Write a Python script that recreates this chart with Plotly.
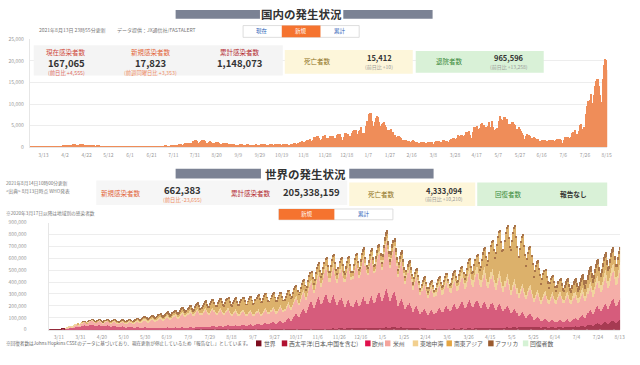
import plotly.graph_objects as go
import pandas as pd

W, H = 640, 365
FONT = "Noto Sans CJK JP, Noto Sans, sans-serif"

# ---------------- 国内: daily new cases (2020-03-01 .. 2021-08-15) ----------------
jp_start, jp_end = "2020-03-01", "2021-08-15"
jp_2020_03 = [15,14,9,33,33,59,47,33,26,54,52,56,62,41,64,15,44,39,44,53,41,43,39,65,71,96,112,194,173,87,220]
jp_2020_04 = [266,235,351,368,383,252,351,515,575,708,743,507,390,457,549,586,582,568,372,370,376,439,420,436,350,203,233,279,223,165]
jp_2020_05 = [229,258,309,174,123,91,98,123,108,71,68,78,60,55,99,49,31,18,33,39,28,29,28,17,21,41,35,51,66,47,36]
jp_2020_06 = [35,51,45,46,41,49,42,27,38,49,42,41,45,50,72,43,40,41,65,39,59,35,31,58,80,104,96,118,86,103]
jp_2020_07 = [125,194,250,274,206,158,206,207,355,430,385,407,253,332,452,622,595,663,509,420,631,795,981,769,839,837,598,981,1264,1301,1580]
jp_2020_08 = [1536,1331,957,1243,1354,1485,1605,1567,1441,820,700,979,1177,1360,1227,1007,650,900,1070,1180,1030,1010,740,480,720,900,860,820,860,580,430]
jp_2020_09 = [590,600,580,590,560,430,270,510,500,650,640,580,440,270,400,510,580,560,530,410,300,280,270,470,560,550,410,310,490,600]
jp_2020_10 = [630,600,590,550,360,510,520,620,650,590,430,390,670,640,570,610,620,420,310,610,640,690,740,780,490,470,560,700,770,870,840]
jp_2020_11 = [610,480,860,620,1040,1140,1330,1130,780,1280,1550,1660,1700,1730,1440,950,1700,2200,2390,2420,2590,2170,1520,1230,1940,2500,2500,2680,2060,1430]
jp_2020_12 = [2020,2420,2510,2440,2510,2060,1500,2050,2810,2970,2790,3040,2400,1680,2400,3200,3210,2990,2990,2500,1750,2640,3270,3740,3820,3880,2950,2390,3600,3850,4520]
jp_2021_01 = [3200,3050,3160,3320,4900,6000,7570,7880,7790,6090,4870,4540,5870,6600,7130,6990,5750,4930,5320,5630,5680,5040,4720,3990,1980,3850,3960,4130,3530,3340,2670]
jp_2021_02 = [1790,2320,2630,2570,2270,2070,1550,1000,1560,1710,1560,1360,1360,1250,1000,1300,1530,1390,1220,1220,1060,700,900,1070,1050,1000,1080,990]
jp_2021_03 = [700,870,1130,1150,1150,1140,1070,600,1080,1310,1300,1320,1280,1060,830,1100,1490,1560,1480,1470,1120,810,1500,1920,1920,2000,2080,1780,1210,2060,2840]
jp_2021_04 = [2600,2760,2780,2470,1570,2660,3450,3450,3460,3700,2780,1990,3460,4570,4570,4530,4800,4090,2920,4340,5300,5500,5100,5100,4600,3300,4900,5800,4700,4680]
jp_2021_05 = [5900,4500,4000,4000,4100,4400,6000,7200,6400,4900,6200,7000,6900,6300,6400,5200,3700,5200,5700,5700,5200,5000,4100,2700,4100,4500,4100,3700,3300,2700,1800]
jp_2021_06 = [2600,3000,2800,2700,2600,2000,1300,2000,2300,2100,1900,1900,1400,1000,1400,1700,1700,1600,1600,1300,900,1400,1700,1700,1600,1600,1300,980,1500,1800]
jp_2021_07 = [1800,1800,1900,1500,1000,1700,2200,2200,2200,2400,2000,1500,2400,3200,3400,3400,3800,3100,2300,3700,5000,5400,4200,4000,4700,4700,7600,9500,10700,10800,12300]
jp_2021_08 = [10200,8400,12000,14200,15300,15800,15700,14100,12100,10400,15800,18900,20300,20100,17823]

jp_new = (jp_2020_03 + jp_2020_04 + jp_2020_05 + jp_2020_06 + jp_2020_07 + jp_2020_08 +
          jp_2020_09 + jp_2020_10 + jp_2020_11 + jp_2020_12 + jp_2021_01 + jp_2021_02 +
          jp_2021_03 + jp_2021_04 + jp_2021_05 + jp_2021_06 + jp_2021_07 + jp_2021_08)

# ---------------- 世界: daily new cases by WHO region, thousands ----------------
world_start, world_end = "2020-03-02", "2021-08-13"
world_total_k = [2,2,2,3,3,4,4,4,4,5,7,7,11,11,13]   # 3/2..3/16 (before regional data)

wpro_k = [
1,1,1,1,1,1,1, 1,1,1,1,1,1,1,
1,2,2,2,2,2,1, 2,2,2,2,2,2,2,
2,2,2,2,2,2,1, 1,2,2,2,2,1,1,
1,1,1,1,1,1,1, 1,1,1,1,1,1,1,
1,1,1,1,1,1,1, 1,1,1,1,1,1,1,
1,1,1,1,1,1,1, 1,1,1,1,1,1,1,
1,1,1,1,1,1,1, 1,1,1,1,1,1,1,
1,1,1,1,1,1,1, 1,2,2,2,2,2,2,
3,3,3,3,3,3,3, 3,4,4,4,4,4,4,
4,5,5,5,6,5,5, 5,6,6,7,7,6,5,
6,7,7,8,8,7,6, 6,7,7,8,8,7,6,
6,7,7,8,8,7,6, 5,6,6,7,7,6,5,
5,6,6,7,7,6,5, 4,5,5,6,6,5,4,
4,5,5,6,6,5,4, 4,5,5,6,6,5,4,
4,5,5,6,6,5,4, 4,5,5,6,6,5,4,
4,5,5,6,6,5,4, 5,6,6,7,7,6,5,
5,6,6,7,7,6,5, 6,7,7,8,8,7,6,
8,9,9,10,10,9,8, 9,11,12,12,12,11,10,
10,12,13,13,14,12,11, 11,13,14,14,15,13,12,
12,14,15,16,16,14,12, 14,15,17,18,18,16,14,
14,15,17,18,18,16,14, 15,16,18,19,19,17,15,
17,19,21,22,23,20,18, 19,21,23,24,25,22,20,
17,19,21,22,23,20,18, 15,17,19,20,20,18,16,
13,14,16,17,17,15,13, 10,12,13,13,14,12,11,
9,10,10,11,11,10,9, 9,10,10,11,11,10,9,
9,10,10,11,11,10,9, 9,11,12,12,12,11,10,
9,11,12,12,12,11,10, 10,12,13,13,14,12,11,
11,13,14,14,15,13,12, 12,14,15,16,16,14,12,
14,15,17,18,18,16,14, 15,17,19,20,20,18,16,
17,19,21,22,23,20,18, 19,21,23,24,25,22,20,
21,23,25,27,27,24,21, 22,24,26,28,28,25,22,
21,23,25,27,27,24,21, 19,21,23,24,25,22,20,
19,21,23,24,25,22,20, 20,22,24,26,26,23,20,
21,23,25,27,27,24,21, 22,25,27,29,29,26,23,
28,31,34,36,36,32,28, 34,38,42,44,45,40,36,
43,48,53,56,57,50,45, 52,58,63,67,68,60,53,
60,67,74,78,79,70,62, 67,75,82,87]

euro_k = [
11,13,15,17,19,18,17, 20,23,26,28,30,27,24,
28,31,35,37,38,34,30, 32,36,39,41,42,37,33,
30,34,37,39,40,35,31, 28,32,35,37,37,33,29,
26,29,32,33,34,30,26, 22,24,26,28,28,25,22,
19,21,23,24,25,22,20, 17,19,21,22,23,20,18,
15,17,19,20,20,18,16, 15,16,18,19,19,17,15,
15,16,18,19,19,17,15, 15,17,19,20,20,18,16,
15,17,19,20,20,18,16, 15,17,19,20,20,18,16,
15,17,19,20,21,18,16, 17,19,21,22,23,20,18,
18,20,22,23,24,21,19, 20,22,24,26,26,23,20,
21,24,26,28,28,25,22, 23,26,28,30,31,27,24,
25,28,30,32,33,29,26, 27,31,34,36,36,32,28,
31,35,38,40,41,36,32, 36,40,44,47,47,42,37,
41,46,50,53,54,48,43, 47,53,58,61,62,55,49,
56,62,68,72,73,65,58, 66,75,84,91,94,83,75,
90,103,116,125,130,115,104, 125,143,160,170,175,155,140,
165,190,212,225,232,205,182, 200,228,252,268,275,243,215,
220,245,268,283,288,255,227, 215,240,263,278,283,250,222,
198,221,242,255,260,230,205, 185,206,226,239,243,215,191,
181,202,221,233,237,210,187, 198,221,242,255,260,230,205,
206,230,252,266,271,240,214, 224,250,273,289,294,260,231,
249,278,305,322,328,290,258, 224,250,273,289,294,260,231,
185,206,226,239,243,215,191, 159,178,194,205,209,185,165,
142,158,173,183,186,165,147, 125,139,152,161,164,145,129,
120,134,147,155,158,140,125, 133,149,163,172,175,155,138,
146,163,179,189,192,170,151, 159,178,194,205,209,185,165,
172,192,210,222,226,200,178, 185,206,226,239,243,215,191,
181,202,221,233,237,210,187, 172,192,210,222,226,200,178,
163,182,200,211,215,190,169, 155,173,189,200,203,180,160,
142,158,173,183,186,165,147, 120,134,147,155,158,140,125,
95,106,116,122,124,110,98, 82,91,100,105,107,95,85,
65,72,79,83,85,75,67, 52,58,63,67,68,60,53,
47,53,58,61,62,55,49, 43,48,53,56,57,50,45,
47,53,58,61,62,55,49, 56,62,68,72,73,65,58,
69,77,84,89,90,80,71, 95,106,116,122,124,110,98,
112,125,137,144,147,130,116, 120,134,147,155,158,140,125,
138,154,168,178,181,160,142, 142,158,173,183]

amro_k = [
3,4,5,6,7,6,6, 9,11,13,14,15,13,12,
21,24,26,28,28,25,22, 28,32,35,37,37,33,29,
28,32,35,37,37,33,29, 28,32,35,37,37,33,29,
30,34,37,39,40,35,31, 30,34,37,39,40,35,31,
33,36,40,42,43,38,34, 39,43,47,50,51,45,40,
47,53,58,61,62,55,49, 52,58,63,67,68,60,53,
56,62,68,72,73,65,58, 65,72,79,83,85,75,67,
73,82,89,94,96,85,76, 86,96,105,111,113,100,89,
95,106,116,122,124,110,98, 103,115,126,133,136,120,107,
108,120,131,139,141,125,111, 108,120,131,139,141,125,111,
103,115,126,133,136,120,107, 99,110,121,128,130,115,102,
90,101,110,117,119,105,93, 86,96,105,111,113,100,89,
82,91,100,105,107,95,85, 77,86,95,100,102,90,80,
82,91,100,105,107,95,85, 82,91,100,105,107,95,85,
82,91,100,105,107,95,85, 86,96,105,111,113,100,89,
95,106,116,122,124,110,98, 103,115,126,133,136,120,107,
116,130,142,150,153,135,120, 138,154,168,178,181,160,142,
163,182,200,211,215,190,169, 181,202,221,233,237,210,187,
185,206,226,239,243,215,191, 206,230,252,266,271,240,214,
232,259,284,300,305,270,240, 249,278,305,322,328,290,258,
241,269,294,311,316,280,249, 249,278,305,322,328,290,258,
301,336,368,389,396,350,312, 275,307,336,355,362,320,285,
241,269,294,311,316,280,249, 215,240,263,278,283,250,223,
185,206,226,239,243,215,191, 155,173,189,200,203,180,160,
138,154,168,178,181,160,142, 146,163,179,189,192,170,151,
151,168,184,194,198,175,156, 146,163,179,189,192,170,151,
151,168,184,194,198,175,156, 168,187,205,216,220,195,174,
172,192,210,222,226,200,178, 176,197,215,228,232,205,182,
172,192,210,222,226,200,178, 168,187,205,216,220,195,174,
163,182,200,211,215,190,169, 155,173,189,200,203,180,160,
155,173,189,200,203,180,160, 155,173,189,200,203,180,160,
151,168,184,194,198,175,156, 151,168,184,194,198,175,156,
155,173,189,200,203,180,160, 159,178,194,205,209,185,165,
155,173,189,200,203,180,160, 142,158,173,183,186,165,147,
138,154,168,178,181,160,142, 142,158,173,183,186,165,147,
151,168,184,194,198,175,156, 168,187,205,216,220,195,174,
172,192,210,222,226,200,178, 181,202,221,233]

emro_k = [
1,1,1,2,2,2,2, 2,3,3,3,3,3,3,
4,4,4,4,4,4,4, 5,5,5,5,5,5,5,
6,6,6,6,6,6,6, 7,7,7,7,7,7,7,
8,8,8,8,8,8,8, 9,10,10,10,10,10,10,
11,11,11,11,12,11,11, 12,13,13,13,14,13,13,
14,15,15,16,16,15,15, 17,18,18,19,19,18,17,
19,20,20,21,21,20,19, 19,20,20,21,21,20,19,
19,20,20,21,21,20,19, 18,19,19,20,20,19,18,
17,18,18,19,19,18,17, 16,17,17,18,18,17,16,
15,16,16,17,17,16,15, 13,14,14,15,15,14,14,
13,14,14,15,15,14,14, 13,14,14,15,15,14,14,
14,15,15,16,16,15,14, 15,16,16,17,17,16,15,
16,17,17,18,18,17,16, 17,18,18,19,19,18,17,
19,20,20,21,21,20,19, 20,21,21,22,22,21,20,
21,22,22,23,23,22,21, 23,24,24,25,25,24,23,
24,25,25,26,26,25,24, 26,27,27,28,28,27,26,
28,30,31,31,31,30,29, 31,33,34,34,34,33,32,
33,35,36,36,36,35,34, 34,36,37,37,37,36,35,
32,34,35,35,35,34,33, 29,31,32,32,32,31,30,
26,27,28,28,28,27,26, 24,25,26,26,26,25,24,
22,23,24,24,24,23,22, 23,24,25,25,25,24,23,
24,25,26,26,26,25,24, 25,26,27,27,27,26,25,
25,26,27,27,27,26,25, 25,26,27,27,27,26,25,
27,28,29,29,29,28,27, 29,30,31,31,31,30,29,
31,33,34,34,34,33,32, 34,36,37,37,37,36,35,
38,40,41,41,41,40,39, 42,44,45,45,45,44,43,
46,48,49,49,49,48,47, 49,52,53,54,54,52,50,
53,56,57,58,58,56,54, 57,60,61,62,62,60,58,
57,60,61,62,62,60,58, 54,57,58,59,59,57,55,
49,52,53,54,54,52,50, 45,47,48,48,48,47,46,
38,40,41,41,41,40,39, 34,36,37,37,37,36,35,
32,34,35,35,35,34,33, 30,32,33,33,33,32,31,
29,30,31,31,31,30,29, 29,31,32,32,32,31,30,
32,34,35,35,35,34,33, 36,38,39,39,39,38,37,
43,45,46,46,46,45,44, 52,55,56,57,57,55,53,
57,60,61,62,62,60,58, 62,65,66,67,67,65,63,
65,68,69,70,70,68,66, 67,70,71,72]

searo_k = [
0,0,0,0,0,0,0, 0,0,0,0,1,0,0,
0,1,1,1,1,1,1, 1,1,1,1,1,1,1,
1,2,2,2,2,2,2, 2,2,2,2,3,2,2,
3,3,3,3,4,3,3, 3,4,4,4,5,4,4,
4,5,5,6,6,5,5, 5,6,6,7,7,6,6,
7,8,8,9,9,8,7, 9,10,11,11,11,10,9,
10,12,13,13,14,12,11, 13,14,16,17,17,15,13,
15,17,19,20,20,18,16, 19,21,23,24,25,22,20,
22,25,27,29,29,26,23, 28,31,34,36,36,32,28,
34,38,42,44,45,40,36, 45,50,55,58,59,52,46,
53,60,65,69,70,62,55, 60,67,74,78,79,70,62,
65,72,79,83,85,75,67, 71,79,86,91,93,82,73,
77,86,95,100,102,90,80, 86,96,105,111,113,100,89,
88,98,107,113,115,102,91, 82,91,100,105,107,95,85,
76,84,92,98,99,88,78, 69,77,84,89,90,80,71,
62,69,76,80,81,72,64, 53,60,65,69,70,62,55,
47,53,58,61,62,55,49, 45,50,55,58,59,52,46,
41,46,50,53,54,48,43, 43,48,53,56,57,50,45,
40,45,49,52,53,47,42, 37,41,45,48,49,43,38,
34,38,42,44,45,40,36, 30,34,37,39,40,35,31,
26,29,32,33,34,30,27, 24,27,29,31,32,28,25,
26,29,32,33,34,30,27, 26,29,32,33,34,30,27,
24,27,29,31,32,28,25, 22,24,26,28,28,25,22,
19,21,23,24,25,22,20, 17,19,21,22,23,20,18,
17,19,21,22,23,20,18, 19,21,23,24,25,22,20,
22,24,26,28,28,25,22, 26,29,32,33,34,30,27,
33,36,40,42,43,38,34, 47,53,58,61,62,55,49,
69,77,84,89,90,80,71, 112,125,137,144,147,130,116,
172,192,210,222,226,200,178, 249,278,305,322,328,290,258,
297,331,362,383,390,345,307, 331,370,404,427,435,385,343,
301,336,368,389,396,350,312, 241,269,294,311,316,280,249,
172,192,210,222,226,200,178, 129,144,158,167,170,150,134,
95,106,116,122,124,110,98, 69,77,84,89,90,80,71,
60,67,74,78,79,70,62, 56,62,68,72,73,65,58,
56,62,68,72,73,65,58, 60,67,74,78,79,70,62,
69,77,84,89,90,80,71, 77,86,95,100,102,90,80,
77,86,95,100,102,90,80, 73,82,89,94]

afro_k = [
0,0,0,0,0,0,0, 0,0,0,0,0,0,0,
0,0,1,1,1,0,0, 1,1,1,1,1,1,1,
1,1,1,1,1,1,1, 1,1,1,1,1,1,1,
1,1,2,2,2,1,1, 2,2,2,2,2,2,2,
2,2,3,3,3,2,2, 3,3,3,3,3,3,3,
3,4,4,4,4,4,4, 4,5,5,5,6,5,5,
5,6,6,6,7,6,6, 6,7,7,8,8,7,6,
8,9,9,10,10,9,8, 9,10,10,11,11,10,9,
11,12,12,13,13,12,11, 12,13,13,14,14,13,12,
13,14,14,15,15,14,13, 12,13,13,14,14,13,12,
11,12,12,13,13,12,11, 10,11,11,12,12,11,10,
8,9,9,10,10,9,8, 7,8,8,9,9,8,7,
6,7,7,8,8,7,6, 6,7,7,8,8,7,6,
5,6,6,7,7,6,5, 5,6,6,7,7,6,5,
5,6,6,7,7,6,5, 5,6,6,7,7,6,5,
6,7,7,8,8,7,6, 6,7,7,8,8,7,6,
7,8,8,9,9,8,7, 8,9,9,10,10,9,8,
9,10,10,11,11,10,9, 10,11,11,12,12,11,10,
11,12,12,13,13,12,11, 12,14,15,15,15,14,13,
15,17,18,18,19,17,16, 18,20,21,22,22,20,18,
19,22,23,24,24,22,20, 22,25,26,27,28,25,23,
26,30,31,33,33,30,27, 26,30,31,33,33,30,27,
23,26,27,29,29,26,24, 19,22,23,24,24,22,20,
16,18,19,20,20,18,16, 13,15,16,16,17,15,13,
11,13,14,14,15,13,12, 10,12,13,13,13,12,11,
10,12,13,13,13,12,11, 10,12,13,13,13,12,11,
10,12,13,13,13,12,11, 11,13,14,14,15,13,12,
11,13,14,14,15,13,12, 11,13,14,14,15,13,12,
10,12,13,13,13,12,11, 10,12,13,13,13,12,11,
10,11,12,12,12,11,10, 10,11,12,12,12,11,10,
10,12,13,13,13,12,11, 11,13,14,14,15,13,12,
12,14,15,15,16,14,12, 14,16,17,17,18,16,14,
16,18,19,20,20,18,16, 19,22,23,24,24,22,20,
23,27,28,30,30,27,24, 28,33,35,36,37,33,29,
33,38,40,42,42,38,34, 34,40,42,44,45,40,36,
33,38,40,42,42,38,34, 30,35,37,38,39,35,31,
28,32,34,35,36,32,28, 26,30,31,33]

region_names = ["西太平洋", "欧州", "米州", "東地中海", "南東アジア", "アフリカ"]
region_values = [wpro_k, euro_k, amro_k, emro_k, searo_k, afro_k]
region_colors = ["#a63a52", "#d65c7c", "#f5aea8", "#f1d49e", "#dcb16b", "#a8744a"]

legend_labels = ["世界", "西太平洋(日本,中国を含む)", "欧州", "米州", "東地中海", "南東アジア", "アフリカ", "回復者数"]
legend_colors = ["#7d0d1e", "#b01030", "#e0104c", "#f4a49c", "#f2d08f", "#e4a542", "#9a5a2e", "#d5f2d5"]

# ---------------- figure ----------------
fig = go.Figure()

jp_dates = pd.date_range(jp_start, jp_end, freq="D")
fig.add_trace(go.Bar(x=jp_dates[:len(jp_new)], y=jp_new, marker=dict(color="#ef8d59", line=dict(width=0)),
                     xaxis="x", yaxis="y", hoverinfo="skip", showlegend=False))

w_dates = pd.date_range(world_start, world_end, freq="D")
n_early = len(world_total_k)
fig.add_trace(go.Bar(x=w_dates[:n_early], y=[v * 1000 for v in world_total_k],
                     marker=dict(color="#8c1d2e", line=dict(width=0)),
                     xaxis="x2", yaxis="y2", hoverinfo="skip", showlegend=False))
reg_dates = w_dates[n_early:]
for name, vals, col in zip(region_names, region_values, region_colors):
    fig.add_trace(go.Bar(x=reg_dates[:len(vals)], y=[v * 1000 for v in vals], name=name,
                         marker=dict(color=col, line=dict(width=0)),
                         xaxis="x2", yaxis="y2", hoverinfo="skip", showlegend=False))

DAY = 86400000
axis_font = dict(size=5, color="#999", family=FONT)
fig.update_layout(
    width=W, height=H, margin=dict(l=0, r=0, t=0, b=0),
    paper_bgcolor="white", plot_bgcolor="white",
    barmode="stack", bargap=0, showlegend=False,
    font=dict(family=FONT, size=6, color="#666"),
    xaxis=dict(domain=[30 / W, 612 / W], anchor="y", type="date",
               range=["2020-02-29 12:00", "2021-08-15 12:00"],
               tickmode="linear", tick0="2020-03-13", dtick=20 * DAY, tickformat="%-m/%-d",
               showgrid=False, showline=True, linecolor="#e6e6e6", ticks="", tickfont=axis_font,
               ticklabelstandoff=3),
    yaxis=dict(domain=[1 - 146 / H, 1 - 36 / H], anchor="x", range=[0, 25000], dtick=5000,
               tickformat=",", gridcolor="#ededed", showline=True, linecolor="#e6e6e6",
               zeroline=False, ticks="", tickfont=axis_font, ticklabelstandoff=4),
    xaxis2=dict(domain=[49 / W, 625 / W], anchor="y2", type="date",
                range=["2020-03-01 12:00", "2021-08-13 12:00"],
                tickmode="linear", tick0="2020-03-11", dtick=20 * DAY, tickformat="%-m/%-d",
                showgrid=False, showline=True, linecolor="#e6e6e6", ticks="", tickfont=axis_font,
                ticklabelstandoff=2),
    yaxis2=dict(domain=[1 - 332 / H, 1 - 223 / H], anchor="x2", range=[0, 900000], dtick=100000,
                tickformat=",", gridcolor="#ededed", showline=True, linecolor="#e6e6e6",
                zeroline=False, ticks="", tickfont=axis_font, ticklabelstandoff=20),
)

shapes = []
annotations = []


def rect(x0, y0, x1, y1, fill, line=None):
    shapes.append(dict(type="rect", xref="paper", yref="paper", layer="above",
                       x0=x0 / W, x1=x1 / W, y0=1 - y0 / H, y1=1 - y1 / H,
                       fillcolor=fill, line=dict(width=0.8 if line else 0, color=line or fill)))


def txt(x, y, s, size, color="#333", bold=False, anchor="center"):
    annotations.append(dict(x=x / W, y=1 - y / H, xref="paper", yref="paper", showarrow=False,
                            text=("<b>%s</b>" % s) if bold else s, xanchor=anchor, yanchor="middle",
                            font=dict(size=size, color=color, family=FONT), borderpad=0))


# --- 国内 header ---
rect(177, 6, 262, 15, "#7b8294")
rect(346, 6, 436, 15, "#7b8294")
txt(304, 10, "国内の発生状況", 11.5, "#333", bold=True)
txt(38, 26, "2021年8月13日 23時55分更新", 5, "#777", anchor="left")
txt(117, 26, "データ提供：JX通信社/FASTALERT", 5, "#777", anchor="left")
rect(245, 22, 362, 34, "white", "#d6d6d6")
rect(284, 22, 323, 34, "#f5732f")
txt(264, 28, "現在", 5.5, "#2a62b8")
txt(303.5, 28, "新規", 5.5, "white")
txt(342.5, 28, "累計", 5.5, "#2a62b8")

# --- 国内 stat boxes ---
rect(34, 42, 285, 73, "#f4f4f4")
txt(67, 49, "現在感染者数", 6.5, "#cf4a3c")
txt(67, 60, "167,065", 9.5, "#333", bold=True)
txt(67, 70, "(前日比 +4,555)", 5.3, "#e06a5e")
txt(152, 49, "新規感染者数", 6.5, "#e2643a")
txt(152, 60, "17,823", 9.5, "#333", bold=True)
txt(152, 70, "(前週同曜日比 +3,353)", 5.3, "#ee8a5e")
txt(242, 49, "累計感染者数", 6.5, "#b3282e")
txt(242, 60, "1,148,073", 9.5, "#333", bold=True)

rect(287, 47, 416, 71, "#fdf6da")
txt(320, 58, "死亡者数", 6.5, "#8f7224")
txt(382, 55, "15,412", 7.5, "#333", bold=True)
txt(382, 64, "(前日比 +10)", 5, "#999")

rect(419, 48, 548, 70, "#d9f1d7")
txt(453, 58, "退院者数", 6.5, "#3a8a3a")
txt(513, 55, "965,596", 7.5, "#333", bold=True)
txt(513, 64, "(前日比 +13,258)", 5, "#999")

# --- 世界 header ---
rect(177, 168, 263, 178, "#7b8294")
rect(352, 168, 437, 178, "#7b8294")
txt(308, 173, "世界の発生状況", 11.5, "#333", bold=True)
txt(5, 183, "2021年8月14日10時00分更新", 4.7, "#777", anchor="left")
txt(5, 191, "&lt;出典&gt; 8月13日時点 WHO発表", 4.7, "#777", anchor="left")

rect(97, 180, 350, 205, "#f6f6f6")
txt(122, 193, "新規感染者数", 6.5, "#e2643a")
txt(184, 190, "662,383", 9.5, "#333", bold=True)
txt(184, 200, "(前日比 -23,655)", 5.3, "#ee8a5e")
txt(253, 193, "累計感染者数", 6.5, "#b3282e")
txt(314, 192, "205,338,159", 9.5, "#333", bold=True)

rect(352, 182, 479, 206, "#fdf6da")
txt(385, 194, "死亡者数", 6.5, "#8f7224")
txt(447, 190, "4,333,094", 7.5, "#333", bold=True)
txt(447, 199, "(前日比 +10,210)", 5, "#999")

rect(481, 182, 612, 206, "#d9f1d7")
txt(513, 194, "回復者数", 6.5, "#3a8a3a")
txt(578, 194, "報告なし", 6.7, "#333", bold=True)

txt(5, 214, "※2020年3月17日以降は地域別の感染者数", 4.7, "#777", anchor="left")
rect(281, 209, 396, 220, "white", "#d6d6d6")
rect(281, 209, 337, 220, "#f5732f")
txt(309, 214.5, "新規", 5.5, "white")
txt(366.5, 214.5, "累計", 5.5, "#2a62b8")

# --- bottom note + legend ---
txt(5, 346, "※回復者数はJohns Hopkins CSSEのデータに基づいており、現在更新が停止しているため「報告なし」としています。",
    4.6, "#666", anchor="left")
legend_x = [(258, 265), (284, 290), (368, 374), (388, 395), (416, 422), (450, 457), (492, 498), (527, 533)]
for (sx, tx), lab, col in zip(legend_x, legend_labels, legend_colors):
    rect(sx, 343, sx + 5.5, 349, col)
    txt(tx, 346, lab, 5.8, "#555", anchor="left")

fig.update_layout(shapes=shapes, annotations=annotations)
fig.write_html("out.html", config={"displayModeBar": False},
               post_script="document.body.style.margin='0';document.body.style.padding='0';")
